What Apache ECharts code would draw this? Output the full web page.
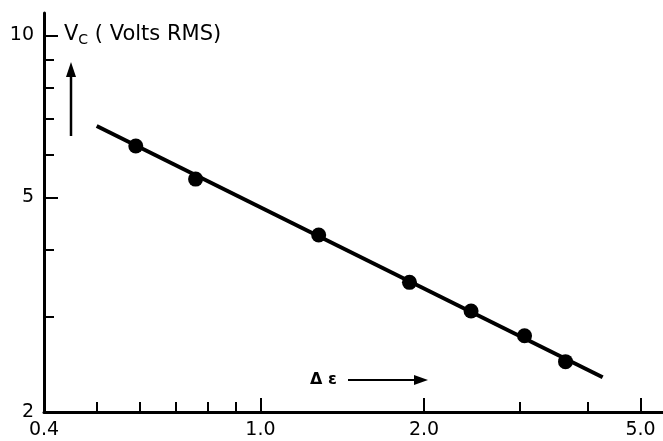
<!DOCTYPE html>
<html>
<head>
<meta charset="utf-8">
<script src="https://cdn.jsdelivr.net/npm/echarts@6/dist/echarts.min.js"></script>
<style>
  html, body { margin: 0; padding: 0; background: #fff; }
  #chart { width: 663px; height: 441px; }
</style>
</head>
<body>
<div id="chart"></div>
<script>
// measured points (delta epsilon, Vc in volts RMS)
var deltaEps = [0.59, 0.76, 1.28, 1.88, 2.44, 3.06, 3.64];
var vc = [6.23, 5.41, 4.26, 3.48, 3.08, 2.77, 2.48];
// fitted straight line, end points
var fitX = [0.50, 4.26];
var fitY = [6.79, 2.32];

var xLabels = [0.4, 1, 2, 5];
var xMajorTicks = [1, 2, 5];
var xMinorTicks = [0.5, 0.6, 0.7, 0.8, 0.9, 3, 4];
var yLabels = [2, 5, 10];
var yMajorTicks = [5, 10];
var yMinorTicks = [3, 4, 6, 7, 8, 9];

var font = 'DejaVu Sans';
var ink = '#000';

var chart = echarts.init(document.getElementById('chart'), null, {renderer: 'canvas'});

function logAxis(min, max, extra) {
  var a = {
    type: 'log', logBase: 10, min: min, max: max,
    splitLine: {show: false},
    axisLine: {show: false},
    axisTick: {show: false},
    axisLabel: {show: false}
  };
  for (var k in extra) a[k] = extra[k];
  return a;
}

var option = {
  animation: false,
  backgroundColor: '#fff',
  grid: {left: 44, right: 0, top: 13, bottom: 29},
  xAxis: [
    logAxis(0.4, 5.5, {
      position: 'bottom',
      axisLine: {show: true, lineStyle: {color: ink, width: 3}},
      axisTick: {show: true, inside: true, length: 14, customValues: xMajorTicks,
                 lineStyle: {color: ink, width: 2}},
      axisLabel: {show: true, customValues: xLabels, margin: 9,
                  fontFamily: font, fontSize: 19, color: ink,
                  formatter: function (v) { return (+v).toFixed(1); }}
    }),
    logAxis(0.4, 5.5, {
      position: 'bottom', offset: 0,
      axisTick: {show: true, inside: true, length: 10, customValues: xMinorTicks,
                 lineStyle: {color: ink, width: 2}}
    })
  ],
  yAxis: [
    logAxis(2, 11, {
      position: 'left',
      axisLine: {show: true, lineStyle: {color: ink, width: 3}},
      axisTick: {show: true, inside: true, length: 14, customValues: yMajorTicks,
                 lineStyle: {color: ink, width: 2}},
      axisLabel: {show: true, customValues: yLabels, margin: 10,
                  fontFamily: font, fontSize: 19, color: ink,
                  formatter: function (v) { return String(Math.round(v)); }}
    }),
    logAxis(2, 11, {
      position: 'left', offset: 0,
      axisTick: {show: true, inside: true, length: 10, customValues: yMinorTicks,
                 lineStyle: {color: ink, width: 2}}
    })
  ],
  series: [
    {
      type: 'line',
      data: fitX.map(function (x, i) { return [x, fitY[i]]; }),
      showSymbol: false,
      lineStyle: {color: ink, width: 4},
      z: 2
    },
    {
      type: 'scatter',
      data: deltaEps.map(function (x, i) { return [x, vc[i]]; }),
      symbol: 'circle',
      symbolSize: 15,
      itemStyle: {color: ink, opacity: 1},
      z: 3
    }
  ],
  graphic: [
    {
      type: 'text', left: 64, top: 24,
      style: {
        text: '{v|V}{s|C}{t| ( Volts RMS)}',
        rich: {
          v: {fontFamily: font, fontSize: 21, fill: ink},
          s: {fontFamily: font, fontSize: 14, fill: ink, padding: [11, 0, 0, 0]},
          t: {fontFamily: font, fontSize: 21, fill: ink}
        }
      }
    },
    // upward arrow beside the y axis title
    {type: 'line', shape: {x1: 71, y1: 136, x2: 71, y2: 72}, style: {stroke: ink, lineWidth: 2.5}},
    {type: 'polygon', shape: {points: [[71, 62], [66, 77], [76, 77]]}, style: {fill: ink}},
    // x axis title with arrow
    {
      type: 'text', left: 310, top: 372,
      style: {text: 'Δ ε', fontFamily: font, fontSize: 16, fontWeight: 'bold', fill: ink}
    },
    {type: 'line', shape: {x1: 348, y1: 380, x2: 418, y2: 380}, style: {stroke: ink, lineWidth: 2}},
    {type: 'polygon', shape: {points: [[428, 380], [414, 375], [414, 385]]}, style: {fill: ink}}
  ]
};

chart.setOption(option);
</script>
</body>
</html>
